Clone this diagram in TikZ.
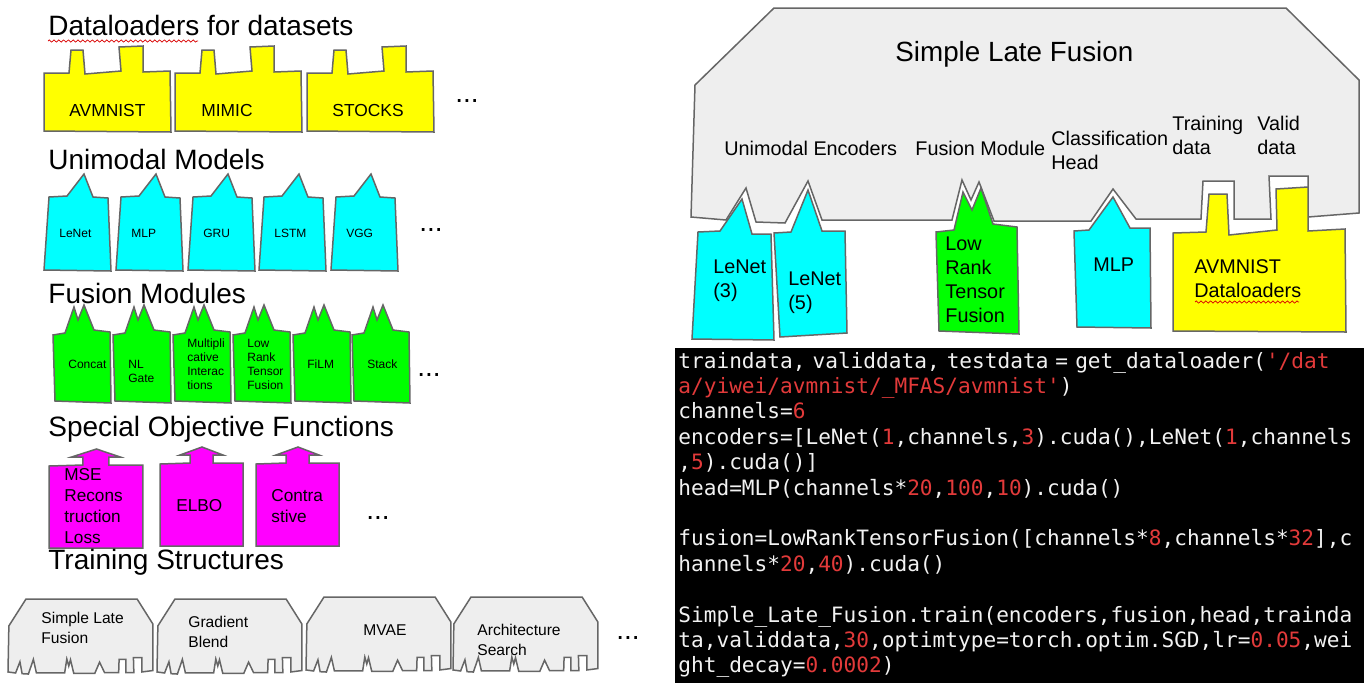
\documentclass[tikz,border=0pt]{standalone}
\usepackage{fontspec}
\setmainfont{Liberation Sans}
\setmonofont{DejaVu Sans Mono}
\definecolor{ShapeLine}{HTML}{666666}
\definecolor{ShapeGray}{HTML}{EEEEEE}
\definecolor{DataYellow}{HTML}{FFFF00}
\definecolor{ModelCyan}{HTML}{00FFFF}
\definecolor{FusionGreen}{HTML}{00FF00}
\definecolor{ObjMagenta}{HTML}{FF00FF}
\definecolor{CodeRed}{HTML}{E23A3A}
\definecolor{CodeWhite}{HTML}{F2F2F2}
\usetikzlibrary{decorations.pathmorphing}
\newcommand{\num}[1]{\textcolor{CodeRed}{#1}}
\tikzset{
  part/.style={draw=ShapeLine, line width=0.75pt, line join=miter},
  datapart/.style={part, fill=DataYellow},
  modelpart/.style={part, fill=ModelCyan},
  fusionpart/.style={part, fill=FusionGreen},
  objpart/.style={part, fill=ObjMagenta},
  trainpart/.style={part, fill=ShapeGray},
  txt/.style={anchor=base west, inner sep=0pt, align=left, text=black},
  headtxt/.style={txt, font=\fontsize{14}{16}\selectfont},
  datatxt/.style={txt, font=\fontsize{8.7}{10.5}\selectfont},
  celltxt/.style={txt, font=\fontsize{6}{7}\selectfont},
  objtxt/.style={txt, font=\fontsize{8.6}{10.4}\selectfont},
  traintxt/.style={txt, font=\fontsize{7.8}{9.7}\selectfont},
  bigtxt/.style={txt, font=\fontsize{9.9}{12}\selectfont},
  squiggle/.style={draw=red!85!black, line width=0.35pt, decorate, decoration={zigzag, segment length=2.4pt, amplitude=0.55pt}},
  dataloader/.pic={
    \path[datapart] (0,27) -- (25,27) -- (27,4) -- (39,4) -- (41,28) -- (77,25) -- (75,1) -- (99,0) -- (99,26) -- (126,25) -- (127,86) -- (0,85) -- cycle;
  },
  unimodal/.pic={
    \path[modelpart] (5,23) -- (23,22) -- (40,0) -- (49,23) -- (64,24) -- (67,97) -- (0,96) -- cycle;
  },
  fusionmod/.pic={
    \path[fusionpart] (0,30) -- (12,28) -- (21,2) -- (25,15) -- (31,0) -- (41,25) -- (57,27) -- (58,98) -- (2,96) -- cycle;
  },
  objective/.pic={
    \path[objpart] (0,17) -- (30,16) -- (30,8) -- (20,8) -- (42,0) -- (63,8) -- (53,8) -- (53,16) -- (83,16) -- (83,99) -- (0,99) -- cycle;
  },
  trainstruct/.pic={
    \path[trainpart] (4,77) -- (83,0) -- (595,0) -- (668,72) -- (668,205) -- (617,209) -- (617,168) -- (578,168) -- (580,211) -- (543,211) -- (543,173) -- (512,173) -- (510,211) -- (445,211) -- (422,181) -- (400,213) -- (303,213) -- (288,174) -- (280,192) -- (271,172) -- (261,212) -- (131,212) -- (117,173) -- (94,215) -- (65,214) -- (55,180) -- (35,212) -- (0,209) -- cycle;
  }
}
\begin{document}
\begin{tikzpicture}[x=0.5pt, y=-0.5pt]
  \useasboundingbox (0,0) rectangle (1372,687);

  % left column
  \node[headtxt] (headdata) at (48,35) {Dataloaders for datasets};
  \coordinate (squigA) at (48,41);
  \coordinate (squigB) at (198,41);
  \draw[squiggle] (squigA) -- (squigB);
  \pic at (44,46) {dataloader};
  \pic at (175,46) {dataloader};
  \pic at (307,46) {dataloader};
  \node[datatxt] (avmnist) at (69,116) {AVMNIST};
  \node[datatxt] (mimic) at (201,116) {MIMIC};
  \node[datatxt] (stocks) at (332,116) {STOCKS};
  \node[headtxt] (dotsdata) at (455,102) {...};

  \node[headtxt] (headmodel) at (48,169) {Unimodal Models};
  \pic at (44,174) {unimodal};
  \pic at (116,174) {unimodal};
  \pic at (188,174) {unimodal};
  \pic at (259,174) {unimodal};
  \pic at (331,174) {unimodal};
  \node[celltxt] (lenet) at (59,237) {LeNet};
  \node[celltxt] (mlp) at (131,237) {MLP};
  \node[celltxt] (gru) at (203,237) {GRU};
  \node[celltxt] (lstm) at (274,237) {LSTM};
  \node[celltxt] (vgg) at (346,237) {VGG};
  \node[headtxt] (dotsmodel) at (419,231) {...};

  \node[headtxt] (headfusion) at (48,303) {Fusion Modules};
  \pic at (53,305) {fusionmod};
  \pic at (113,305) {fusionmod};
  \pic at (173,305) {fusionmod};
  \pic at (233,305) {fusionmod};
  \pic at (293,305) {fusionmod};
  \pic at (352,305) {fusionmod};
  \node[celltxt] (concat) at (68,368) {Concat};
  \node[celltxt] (nlgate) at (128,382) {NL\\Gate};
  \node[celltxt] (multi) at (187,389) {Multipli\\cative\\Interac\\tions};
  \node[celltxt] (lowrank) at (247,389) {Low\\Rank\\Tensor\\Fusion};
  \node[celltxt] (film) at (307,368) {FiLM};
  \node[celltxt] (stack) at (367,368) {Stack};
  \node[headtxt] (dotsfusion) at (417,376) {...};

  \node[headtxt] (headobj) at (48,436) {Special Objective Functions};
  \pic[xscale=1.13] at (49,449) {objective};
  \pic at (160,447) {objective};
  \pic at (256,447) {objective};
  \node[objtxt] (mse) at (64,543) {MSE\\Recons\\truction\\Loss};
  \node[objtxt] (elbo) at (176,511) {ELBO};
  \node[objtxt] (contra) at (271,522) {Contra\\stive};
  \node[headtxt] (dotsobj) at (366,519) {...};

  \node[headtxt] (headtrain) at (48,569) {Training Structures};
  \pic[xscale=0.217, yscale=0.349] at (8,599) {trainstruct};
  \pic[xscale=0.217, yscale=0.349] at (157,599) {trainstruct};
  \pic[xscale=0.217, yscale=0.349] at (306,597) {trainstruct};
  \pic[xscale=0.217, yscale=0.349] at (453,597) {trainstruct};
  \node[traintxt] (simple) at (41,643) {Simple Late\\Fusion};
  \node[traintxt] (gradient) at (188,647) {Gradient\\Blend};
  \node[traintxt] (mvae) at (363,635) {MVAE};
  \node[traintxt] (archsearch) at (477,655) {Architecture\\Search};
  \node[headtxt] (dotstrain) at (616,639) {...};

  % right column
  \pic at (691,8) {trainstruct};
  \node[txt, font=\fontsize{13.9}{16}\selectfont] (lftitle) at (895,61) {Simple Late Fusion};
  \node[bigtxt] (encoders) at (724,155) {Unimodal Encoders};
  \node[bigtxt] (fusionlbl) at (915,155) {Fusion Module};
  \node[bigtxt] (classhead) at (1051,169) {Classification\\Head};
  \node[bigtxt] (traindata) at (1172,154) {Training\\data};
  \node[bigtxt] (validdata) at (1257,154) {Valid\\data};

  \path[modelpart] (698,232) -- (720,231) -- (742,199) -- (752,234) -- (771,234) -- (774,340) -- (692,339) -- cycle;
  \path[modelpart] (774,233) -- (791,232) -- (808,190) -- (822,231) -- (845,231) -- (847,333) -- (780,337) -- cycle;
  \path[fusionpart] (936,232) -- (954,230) -- (963,192) -- (972,210) -- (981,188) -- (993,224) -- (1017,227) -- (1019,334) -- (939,331) -- cycle;
  \path[modelpart] (1074,231) -- (1089,230) -- (1113,197) -- (1130,228) -- (1150,228) -- (1151,328) -- (1077,327) -- cycle;
  \path[datapart] (1173,233) -- (1206,232) -- (1209,194) -- (1227,194) -- (1229,235) -- (1277,230) -- (1276,189) -- (1308,187) -- (1308,231) -- (1345,229) -- (1346,332) -- (1173,331) -- cycle;
  \node[bigtxt] (bigleneta) at (713,297) {LeNet\\(3)};
  \node[bigtxt] (biglenetb) at (788,309) {LeNet\\(5)};
  \node[bigtxt] (biglowrank) at (945,322) {Low\\Rank\\Tensor\\Fusion};
  \node[bigtxt] (bigmlp) at (1093,271) {MLP};
  \node[bigtxt] (bigdata) at (1194,297) {AVMNIST\\Dataloaders};
  \coordinate (squigC) at (1195,302);
  \coordinate (squigD) at (1299,302);
  \draw[squiggle] (squigC) -- (squigD);

  % code listing
  \node[anchor=north west, fill=black, inner xsep=1.5pt, inner ysep=0pt, text width=341.5pt, minimum height=167.5pt, align=left, text=CodeWhite, font=\ttfamily\fontsize{10.56}{12.7}\selectfont] (listing) at (675,348) {%
    traindata, validdata, testdata = get\_dataloader(\num{'/dat}\\
    \num{a/yiwei/avmnist/\_MFAS/avmnist'})\\
    channels=\num{6}\\
    encoders=[LeNet(\num{1},channels,\num{3}).cuda(),LeNet(\num{1},channels\\
    ,\num{5}).cuda()]\\
    head=MLP(channels*\num{20},\num{100},\num{10}).cuda()\\
    \mbox{}\\
    fusion=LowRankTensorFusion([channels*\num{8},channels*\num{32}],c\\
    hannels*\num{20},\num{40}).cuda()\\
    \mbox{}\\
    Simple\_Late\_Fusion.train(encoders,fusion,head,trainda\\
    ta,validdata,\num{30},optimtype=torch.optim.SGD,lr=\num{0.05},wei\\
    ght\_decay=\num{0.0002})\par\vspace{1pt}};
\end{tikzpicture}
\end{document}
